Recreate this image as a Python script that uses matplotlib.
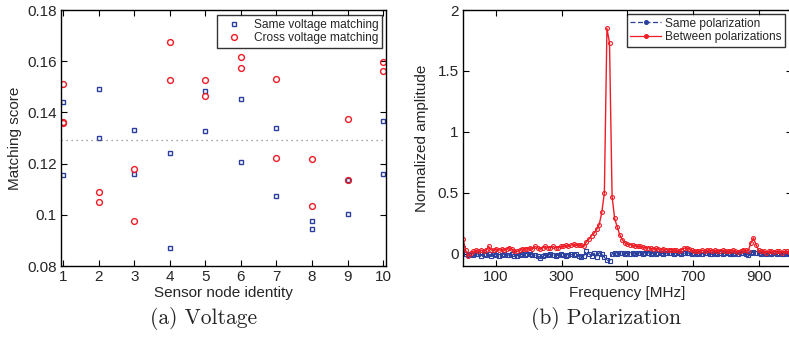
import numpy as np
import matplotlib
matplotlib.use("Agg")
import matplotlib.pyplot as plt
from matplotlib.lines import Line2D

plt.rcParams['font.family'] = ['Liberation Sans', 'DejaVu Sans']
plt.rcParams['mathtext.fontset'] = 'cm'

# ---- (a) matching scores per sensor node ----
nodes = [1, 2, 3, 4, 5, 6, 7, 8, 9, 10]
same_voltage = [
    [0.1441, 0.1157], [0.1490, 0.1299], [0.1330, 0.1159], [0.1241, 0.0869],
    [0.1484, 0.1326], [0.1452, 0.1205], [0.1340, 0.1073], [0.0975, 0.0943],
    [0.1135, 0.1002], [0.1365, 0.1158],
]
cross_voltage = [
    [0.1512, 0.1362, 0.1358], [0.1088, 0.1051], [0.1179, 0.0976], [0.1675, 0.1527],
    [0.1525, 0.1465], [0.1615, 0.1575], [0.1529, 0.1222], [0.1219, 0.1034],
    [0.1376, 0.1136], [0.1597, 0.1560],
]
threshold = 0.1292
y_ticks_a = [0.08, 0.10, 0.12, 0.14, 0.16, 0.18]
y_ticklabels_a = ['0.08', '0.1', '0.12', '0.14', '0.16', '0.18']

# ---- (b) spectrum amplitude ----
n_bins = 128
freq_step = 1000 / n_bins
between_pol = [
    0.12, 0.03, -0.02, 0.01, 0.02, 0.03, 0.02, 0.03, 0.02, 0.03,
    0.06, 0.03, 0.03, 0.04, 0.03, 0.04, 0.03, 0.04, 0.05, 0.04,
    0.02, 0.02, 0.03, 0.04, 0.04, 0.04, 0.05, 0.04, 0.06, 0.05,
    0.04, 0.05, 0.06, 0.05, 0.05, 0.06, 0.05, 0.05, 0.06, 0.06,
    0.07, 0.06, 0.07, 0.08, 0.07, 0.07, 0.07, 0.06, 0.10, 0.12,
    0.15, 0.17, 0.20, 0.24, 0.34, 0.50, 1.85, 1.73, 0.47, 0.29,
    0.22, 0.155, 0.115, 0.09, 0.08, 0.075, 0.07, 0.065, 0.06, 0.06,
    0.055, 0.05, 0.05, 0.045, 0.04, 0.045, 0.04, 0.035, 0.04, 0.035,
    0.03, 0.035, 0.03, 0.03, 0.025, 0.035, 0.045, 0.05, 0.04, 0.03,
    0.02, 0.025, 0.02, 0.03, 0.025, 0.03, 0.03, 0.025, 0.03, 0.02,
    0.025, 0.03, 0.025, 0.02, 0.025, 0.03, 0.02, 0.015, 0.025, 0.035,
    0.03, 0.025, 0.09, 0.13, 0.075, 0.03, 0.02, 0.025, 0.01, 0.02,
    0.02, 0.015, 0.02, 0.02, 0.01, 0.02, 0.02, 0.015,
]
same_pol = [
    0.05, 0.0, -0.01, 0.0, -0.01, 0.0, -0.005, -0.015, 0.0, -0.01,
    -0.005, -0.015, 0.0, -0.01, -0.02, -0.01, 0.0, -0.01, -0.01, -0.005,
    -0.02, -0.015, -0.01, -0.005, -0.01, -0.005, 0.0, -0.01, -0.01, -0.015,
    -0.035, -0.02, -0.01, -0.01, -0.005, -0.01, -0.02, -0.01, -0.005, -0.01,
    -0.02, -0.01, -0.005, -0.01, -0.005, -0.015, -0.03, -0.015, 0.02, 0.0,
    -0.015, 0.005, -0.03, 0.01, 0.0, -0.03, -0.05, -0.06, 0.0, 0.005,
    0.0, 0.005, 0.01, 0.0, 0.005, 0.0, 0.01, -0.005, 0.005, 0.01,
    0.0, 0.005, 0.01, 0.0, 0.005, -0.005, 0.005, 0.01, 0.0, 0.005,
    0.01, 0.005, 0.0, 0.01, 0.005, 0.0, 0.005, 0.01, 0.005, 0.0,
    0.005, -0.005, 0.005, 0.0, 0.01, 0.005, 0.0, -0.005, 0.005, 0.0,
    0.005, 0.0, 0.01, 0.005, -0.005, 0.0, 0.005, 0.0, 0.005, 0.01,
    0.0, -0.01, 0.005, 0.015, 0.01, 0.005, 0.0, 0.005, -0.005, 0.005,
    0.0, 0.005, 0.0, 0.005, 0.0, -0.005, 0.005, 0.0,
]
freq = np.arange(n_bins) * freq_step
x_ticks_b = [100, 300, 500, 700, 900]
y_ticks_b = [0, 0.5, 1, 1.5, 2]
y_ticklabels_b = ['0', '0.5', '1', '1.5', '2']

BLUE = '#2a3f9e'
RED = '#ee1c25'
TXT = '#262626'

W, H = 789, 341
fig = plt.figure(figsize=(W / 100, H / 100), dpi=100)


def px_axes(x0, x1, y0, y1):
    return fig.add_axes([x0 / W, 1 - y1 / H, (x1 - x0) / W, (y1 - y0) / H])


def style(ax):
    for s in ax.spines.values():
        s.set_linewidth(1.0)
        s.set_color('black')
    ax.tick_params(direction='in', top=True, right=True, length=4, width=0.8,
                   labelsize=11, colors='black', labelcolor=TXT, pad=3)


SQ = 3.2
CI = 4.2

# ---------- panel (a) ----------
ax1 = px_axes(61, 386, 10, 266)
style(ax1)
for n, vals in zip(nodes, same_voltage):
    ax1.plot([n] * len(vals), vals, linestyle='none', marker='s', markersize=SQ,
             markerfacecolor='none', markeredgecolor=BLUE, markeredgewidth=1.0)
for n, vals in zip(nodes, cross_voltage):
    ax1.plot([n] * len(vals), vals, linestyle='none', marker='o', markersize=CI,
             markerfacecolor='none', markeredgecolor=RED, markeredgewidth=1.0)
ax1.axhline(threshold, color='#888888', linestyle=(0, (1, 3)), linewidth=0.9)
ax1.set_xlim(0.94, 10.08)
ax1.set_ylim(0.08, 0.18)
ax1.set_xticks(nodes)
ax1.set_yticks(y_ticks_a)
ax1.set_yticklabels(y_ticklabels_a)
ax1.set_xlabel('Sensor node identity', fontsize=11, color=TXT, labelpad=1)
ax1.set_ylabel('Matching score', fontsize=11, color=TXT, labelpad=4)

h1 = [Line2D([], [], linestyle='none', marker='s', markersize=SQ, markerfacecolor='none',
             markeredgecolor=BLUE, markeredgewidth=1.0),
      Line2D([], [], linestyle='none', marker='o', markersize=CI, markerfacecolor='none',
             markeredgecolor=RED, markeredgewidth=1.0)]
leg1 = ax1.legend(h1, ['Same voltage matching', 'Cross voltage matching'],
                  loc='upper right', bbox_to_anchor=(0.988, 0.98), borderaxespad=0,
                  fontsize=8.6, frameon=True, fancybox=False, handlelength=2.2,
                  handletextpad=0.6, borderpad=0.3, labelspacing=0.15)
leg1.get_frame().set_edgecolor('black')
leg1.get_frame().set_linewidth(1.0)
for t in leg1.get_texts():
    t.set_color(TXT)

# ---------- panel (b) ----------
ax2 = px_axes(463, 792, 10, 266)
style(ax2)
ax2.plot(freq, same_pol, color=BLUE, linestyle=(0, (4, 2)), linewidth=0.9,
         marker='s', markersize=2.6, markerfacecolor='none', markeredgewidth=0.8,
         label='Same polarization')
ax2.plot(freq, between_pol, color=RED, linestyle='-', linewidth=1.0,
         marker='o', markersize=2.8, markerfacecolor='none', markeredgewidth=0.8,
         label='Between polarizations')
ax2.set_xlim(0, 1000)
ax2.set_ylim(-0.1, 2)
ax2.set_xticks(x_ticks_b)
ax2.set_yticks(y_ticks_b)
ax2.set_yticklabels(y_ticklabels_b)
ax2.set_xlabel('Frequency [MHz]', fontsize=11, color=TXT, labelpad=1)
ax2.set_ylabel('Normalized amplitude', fontsize=11, color=TXT, labelpad=6)

h2 = [Line2D([], [], color=BLUE, linestyle=(0, (4, 2)), linewidth=0.9, marker='o',
             markersize=2.6, markerfacecolor=BLUE),
      Line2D([], [], color=RED, linestyle='-', linewidth=0.9, marker='o',
             markersize=2.6, markerfacecolor=RED)]
leg2 = ax2.legend(h2, ['Same polarization', 'Between polarizations'],
                  loc='upper right', bbox_to_anchor=(0.979, 0.984), borderaxespad=0,
                  fontsize=8.6, frameon=True, fancybox=False, handlelength=2.6,
                  handletextpad=0.3, borderpad=0.3, labelspacing=0.15)
leg2.get_frame().set_edgecolor('black')
leg2.get_frame().set_linewidth(1.0)
for t in leg2.get_texts():
    t.set_color(TXT)

# ---------- sub-captions ----------
fig.text(204 / W, 1 - 319 / H, '(a) Voltage', ha='center', va='center',
         fontsize=15.5, family='cmr10', color=TXT)
fig.text(606 / W, 1 - 319 / H, '(b) Polarization', ha='center', va='center',
         fontsize=15.5, family='cmr10', color=TXT)

fig.savefig('out.png', dpi=100)
